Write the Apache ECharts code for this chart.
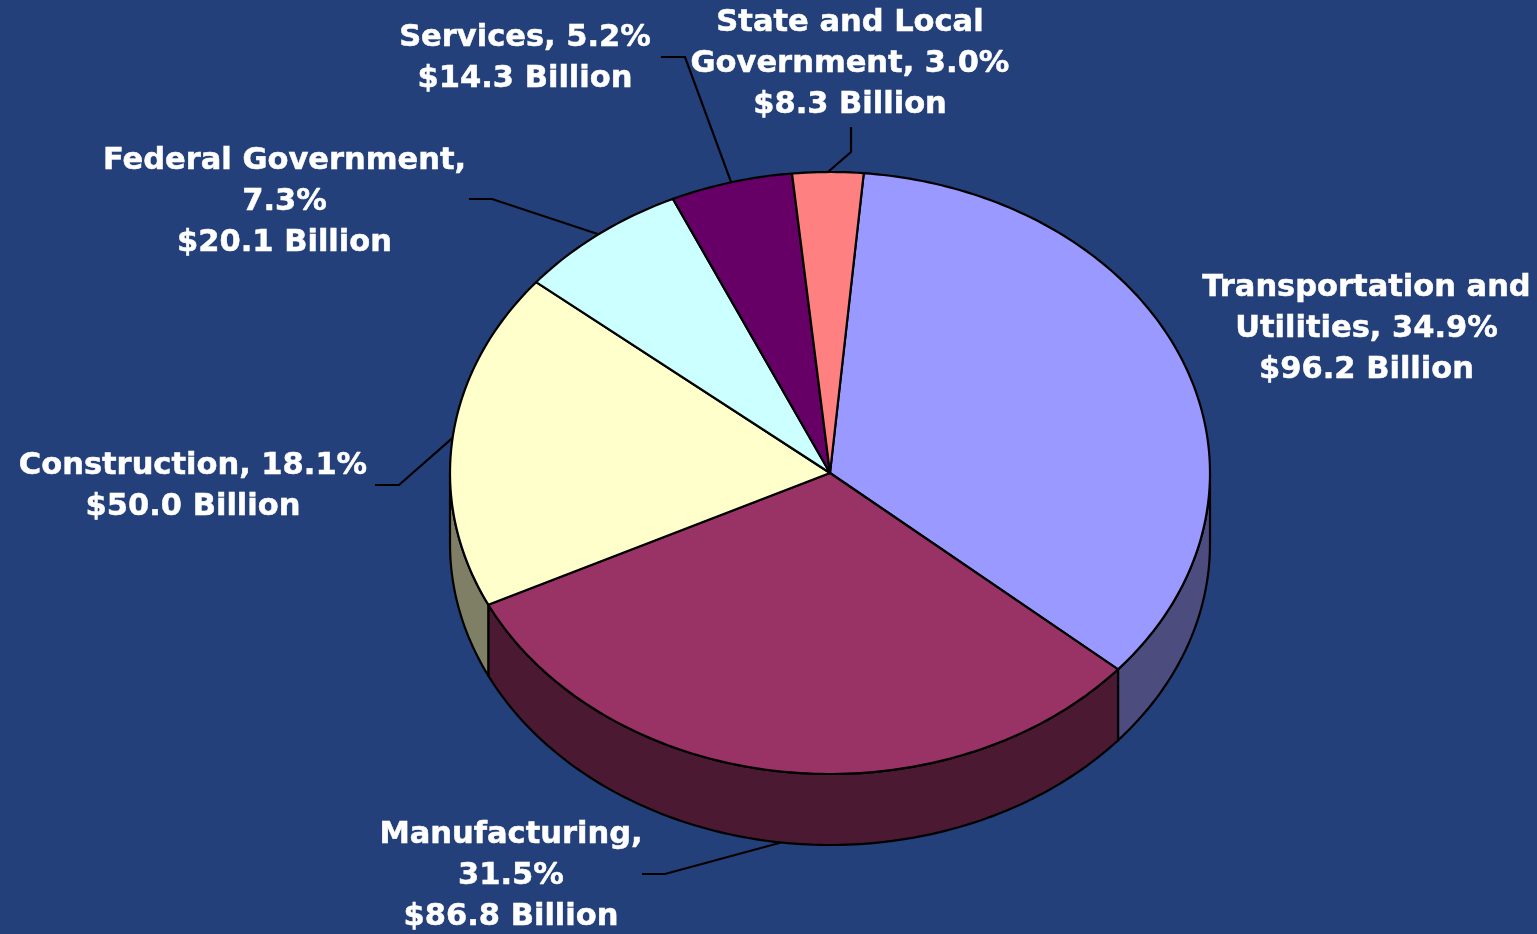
<!DOCTYPE html>
<html>
<head>
<meta charset="utf-8">
<style>html,body{margin:0;padding:0;background:#24407A;}#c{width:1537px;height:934px;}</style>
<script src="https://cdn.jsdelivr.net/npm/echarts@6/dist/echarts.min.js"></script>
</head>
<body>
<div id="c"></div>
<script>
var categories = ['Transportation and\nUtilities', 'Manufacturing,\n', 'Construction', 'Federal Government,\n', 'Services', 'State and Local\nGovernment'];
var billions = [96.2, 86.8, 50.0, 20.1, 14.3, 8.3];
var percents = ['34.9%', '31.5%', '18.1%', '7.3%', '5.2%', '3.0%'];
var amounts = ['$96.2 Billion', '$86.8 Billion', '$50.0 Billion', '$20.1 Billion', '$14.3 Billion', '$8.3 Billion'];

var topColors = ['#9999FF', '#993366', '#FFFFCC', '#CCFFFF', '#660066', '#FF8080'];
var sideColors = ['#4C4C7F', '#4C1933', '#7F7F66', '#667F7F', '#330033', '#7F4040'];
var labelBoxes = [[1366.5, 329], [511, 876], [193, 486.5], [284.5, 202], [525, 58.5], [850, 64]];
var leaderElbows = [null, [[642, 874], [665, 874]], [[375, 485], [399, 485]], [[469, 199], [492, 199]], [[661, 57], [685, 57]], [[851, 127], [851, 152]]];

var CX = 830, CY = 473, RX = 380, RY = 301, DEPTH = 71, START = 5.1;
var total = billions.reduce(function (a, b) { return a + b; }, 0);
function pt(deg, dy) {
  var r = deg * Math.PI / 180;
  return [CX + RX * Math.sin(r), CY - RY * Math.cos(r) + (dy || 0)];
}
function arc(a, b, dy) {
  var out = [], n = Math.max(2, Math.ceil(Math.abs(b - a)));
  for (var i = 0; i <= n; i++) out.push(pt(a + (b - a) * i / n, dy));
  return out;
}
var lineStyle = { stroke: '#000', lineWidth: 2.2, lineJoin: 'round' };

function renderItem(params, api) {
  var idx = params.dataIndex, before = 0;
  for (var i = 0; i < idx; i++) before += billions[i];
  var a0 = START + before / total * 360;
  var a1 = a0 + api.value(0) / total * 360;
  var mid = (a0 + a1) / 2;
  var kids = [];

  var f0 = Math.max(a0, 90), f1 = Math.min(a1, 270);
  if (f1 > f0) {
    var wall = arc(f0, f1, 0).concat(arc(f1, f0, DEPTH));
    kids.push({ type: 'polygon', z2: 1, shape: { points: wall },
      style: Object.assign({ fill: sideColors[idx] }, lineStyle) });
  }
  kids.push({ type: 'polygon', z2: 2, shape: { points: [[CX, CY]].concat(arc(a0, a1, 0)) },
    style: Object.assign({ fill: topColors[idx] }, lineStyle) });

  if (leaderElbows[idx]) {
    var onFront = mid > 90 && mid < 270;
    kids.push({ type: 'polyline', z2: 3,
      shape: { points: leaderElbows[idx].concat([pt(mid, onFront ? DEPTH : 0)]) },
      style: { stroke: '#000', lineWidth: 2.2, fill: null } });
  }
  var head = categories[idx];
  var text = (head.slice(-1) === '\n' ? head + percents[idx] : head + ', ' + percents[idx]) + '\n' + amounts[idx];
  kids.push({ type: 'text', z2: 4, x: labelBoxes[idx][0], y: labelBoxes[idx][1],
    style: { text: text, fill: '#fff', align: 'center', verticalAlign: 'middle',
      font: 'bold 30.5px "DejaVu Sans"', lineHeight: 41, stroke: '#fff', lineWidth: 0.5 } });
  return { type: 'group', children: kids };
}

var chart = echarts.init(document.getElementById('c'), null, { renderer: 'canvas' });
chart.setOption({
  backgroundColor: '#24407A',
  animation: false,
  series: [{
    type: 'custom',
    coordinateSystem: 'none',
    renderItem: renderItem,
    silent: true,
    clip: false,
    data: billions.map(function (v, i) { return { name: categories[i], value: [v] }; })
  }]
});
</script>
</body>
</html>
